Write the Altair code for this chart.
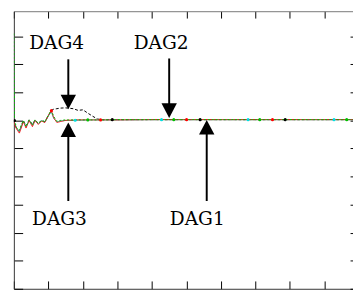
import altair as alt
import pandas as pd

W, H = 353, 284

# x positions (data units) and series values
x_pts = [0, 100, 380, 800, 1090, 1370, 1760, 2220, 2690, 3070, 3540, 4020, 4490,
         5060, 5440, 5760, 6230, 6710, 7420, 7890, 8600, 9310, 10010, 10720, 11430,
         12130, 12840, 15000, 20000, 25000, 30000, 35000, 40000, 45000, 50000]
red_vals = [0.0, -0.12, -0.3, -0.45, -0.25, -0.04, -0.27, 0.0, -0.22, 0.0, -0.14, -0.02, -0.07,
            0.2, 0.35, 0.1, -0.07, -0.04, 0.0, 0.01, 0.01, 0.02, 0.02, 0.02, 0.02,
            0.02, 0.02, 0.02, 0.03, 0.03, 0.03, 0.03, 0.03, 0.03, 0.03]
green_vals = [3.1, 0.0, -0.25, -0.35, -0.15, 0.0, -0.22, 0.02, -0.16, 0.02, -0.1, 0.0, -0.05,
              0.22, 0.37, 0.15, -0.03, 0.0, 0.02, 0.02, 0.02, 0.02, 0.02, 0.02, 0.02,
              0.02, 0.02, 0.03, 0.03, 0.03, 0.03, 0.03, 0.03, 0.03, 0.03]
cyan_vals = [0.0, -0.1, -0.28, -0.4, -0.22, -0.03, -0.22, 0.0, -0.18, 0.0, -0.12, -0.01, -0.06,
             0.18, 0.3, 0.08, -0.05, -0.02, 0.0, 0.0, 0.0, 0.01, 0.01, 0.02, 0.02,
             0.02, 0.02, 0.02, 0.03, 0.03, 0.03, 0.03, 0.03, 0.03, 0.03]
black_vals = [0.0, -0.1, -0.28, -0.38, -0.2, 0.0, -0.2, 0.02, -0.15, 0.02, -0.1, 0.0, -0.04,
              0.2, 0.36, 0.4, 0.42, 0.44, 0.45, 0.44, 0.42, 0.36, 0.38, 0.26, 0.15,
              0.05, 0.03, 0.03, 0.03, 0.03, 0.03, 0.03, 0.03, 0.03, 0.03]

# drawing order: first drawn at the bottom
series_names = ["1_black", "2_cyan", "3_red", "4_green"]
series_colors = ["#000000", "#00e0e0", "#ff0000", "#00c000"]
series_dash = [[3, 2], [1, 0], [1, 0], [2, 2]]
series_values = [black_vals, cyan_vals, red_vals, green_vals]

# sparse marker positions per series
marker_series = ["3_red", "3_red", "3_red", "3_red", "2_cyan", "2_cyan", "2_cyan", "2_cyan",
                 "4_green", "4_green", "4_green", "4_green", "1_black", "1_black", "1_black", "1_black"]
marker_x = [5440, 12570, 25030, 37480, 8880, 21400, 33940, 46400,
            10720, 23180, 35640, 48240, 100, 14260, 26990, 39320]
marker_y = [0.35, 0.02, 0.03, 0.03, 0.01, 0.03, 0.03, 0.03,
            0.02, 0.03, 0.03, 0.03, 0.0, 0.03, 0.03, 0.03]

# annotations
label_text = ["DAG4", "DAG2", "DAG3", "DAG1"]
label_x = [6190, 21340, 6610, 26580]
label_y = [2.74, 2.74, -3.5, -3.5]
arrow_x = [7890, 22510, 7890, 27950]
arrow_from = [2.18, 2.21, -2.87, -2.87]
arrow_to = [0.66, 0.35, -0.33, -0.24]
arrow_dir = ["down", "down", "up", "up"]

x_ticks = list(range(0, 50001, 5000))
y_ticks = list(range(-6, 4))
y_top = 3.895  # top edge of the visible plot area

rows = []
for name, vals in zip(series_names, series_values):
    for xv, yv in zip(x_pts, vals):
        rows.append({"series": name, "x": xv, "y": yv})
lines_df = pd.DataFrame(rows)
markers_df = pd.DataFrame({"series": marker_series, "x": marker_x, "y": marker_y})
labels_df = pd.DataFrame({"label": label_text, "x": label_x, "y": label_y})
arrows_df = pd.DataFrame({"x": arrow_x, "y": arrow_from, "y2": arrow_to, "dir": arrow_dir})

xscale = alt.Scale(domain=[0, 50000], nice=False, zero=False)
yscale = alt.Scale(domain=[-6, y_top], nice=False, zero=False)
color_scale = alt.Scale(domain=series_names, range=series_colors)
dash_scale = alt.Scale(domain=series_names, range=series_dash)

axis_common = dict(title=None, grid=False, domainColor="#333333", tickColor="#000000",
                   domainWidth=1, tickWidth=1)

# bottom labels only
ax_bottom_labels = alt.Axis(title=None, grid=False, domain=False, ticks=False, values=x_ticks,
                            labelExpr="datum.value % 10000 === 0 ? (datum.value === 0 ? '0.0' : format(datum.value, ',')) : ''",
                            labelFontSize=7, labelFont="Liberation Sans", labelFontWeight="bold",
                            labelPadding=2, labelFlush=False, labelOverlap=False, labelBound=False,
                            orient="bottom")
# left border with inward ticks
ax_left = alt.Axis(orient="right", offset=-W, values=y_ticks, labels=False, tickSize=9, **axis_common)
# right border with inward ticks
ax_right = alt.Axis(orient="left", offset=-W, values=y_ticks, labels=False, tickSize=9, **axis_common)
# top border with inward ticks
ax_top = alt.Axis(orient="bottom", offset=-H, values=x_ticks, labels=False, tickSize=7,
                  title=None, grid=False, domainColor="#777777", tickColor="#000000")
# bottom border with inward ticks
ax_bot = alt.Axis(orient="top", offset=-H, values=x_ticks, labels=False, tickSize=8, **axis_common)

lines = alt.Chart(lines_df).mark_line(strokeWidth=1, clip=True).encode(
    x=alt.X("x:Q", scale=xscale, axis=ax_bottom_labels),
    y=alt.Y("y:Q", scale=yscale, axis=ax_left),
    color=alt.Color("series:N", scale=color_scale, legend=None),
    strokeDash=alt.StrokeDash("series:N", scale=dash_scale, legend=None),
    detail="series:N",
)

markers = alt.Chart(markers_df).mark_point(filled=True, size=10, opacity=1, clip=True).encode(
    x=alt.X("x:Q", scale=xscale, axis=ax_top),
    y=alt.Y("y:Q", scale=yscale, axis=ax_right),
    color=alt.Color("series:N", scale=color_scale, legend=None),
)

shafts = alt.Chart(arrows_df).mark_rule(strokeWidth=2, color="black").encode(
    x=alt.X("x:Q", scale=xscale, axis=ax_bot),
    y=alt.Y("y:Q", scale=yscale, axis=None),
    y2="y2:Q",
)

heads = alt.Chart(arrows_df).mark_point(filled=True, opacity=1, color="black", size=225).encode(
    x=alt.X("x:Q", scale=xscale, axis=None),
    y=alt.Y("y2:Q", scale=yscale, axis=None),
    shape=alt.Shape("dir:N", scale=alt.Scale(domain=["down", "up"],
                                              range=["M-1.05,-1L1.05,-1L0,1Z", "M-1.05,1L1.05,1L0,-1Z"]),
                    legend=None),
)

labels = alt.Chart(labels_df).mark_text(font="DejaVu Serif", fontSize=19,
                                        color="black", align="center", baseline="middle").encode(
    x=alt.X("x:Q", scale=xscale, axis=None),
    y=alt.Y("y:Q", scale=yscale, axis=None),
    text="label:N",
)

chart = alt.layer(lines, markers, shafts, heads, labels).resolve_axis(
    x="independent", y="independent"
).properties(
    width=W, height=H,
    autosize=alt.AutoSizeParams(type="none"),
    padding={"left": 6, "top": 0, "right": -6, "bottom": 0},
    background="white",
).configure_view(strokeWidth=0)

chart.save("out.html", embed_options={"renderer": "svg", "actions": False})
